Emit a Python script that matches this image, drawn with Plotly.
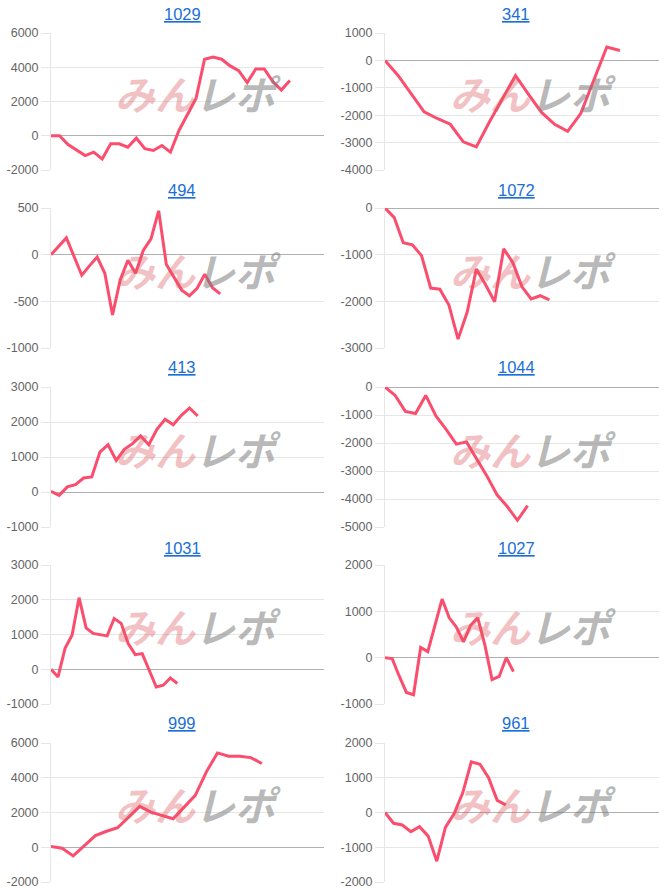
import plotly.graph_objects as go

# ---- data ----
titles = ["1029", "341", "494", "1072", "413", "1044", "1031", "1027", "999", "961"]

v1029 = [0, 0, -510, -860, -1160, -960, -1350, -470, -470, -670, -140, -760, -860, -570,
         -960, 310, 1290, 2180, 4470, 4590, 4470, 4080, 3800, 3100, 3900, 3900, 3160, 2670, 3220]
v341 = [0, -550, -1210, -1880, -2120, -2330, -2970, -3160, -2250, -1380, -550, -1240, -1900,
        -2330, -2590, -1940, -730, 490, 360]
v494 = [0, 90, 180, -20, -220, -120, -25, -200, -645, -270, -60, -200, 45, 170, 470, -105,
        -240, -380, -440, -360, -210, -355, -420]
v1072 = [0, -200, -745, -790, -1020, -1715, -1740, -2080, -2810, -2230, -1310, -1640, -2010,
         -875, -1170, -1690, -1950, -1880, -1970]
v413 = [20, -95, 145, 210, 400, 430, 1140, 1350, 900, 1220, 1380, 1600, 1350, 1790, 2080,
        1920, 2190, 2400, 2170]
v1044 = [0, -300, -870, -945, -300, -1030, -1515, -2040, -1960, -2545, -3175, -3850, -4270,
         -4760, -4240]
v1031 = [0, -220, 600, 980, 2060, 1190, 1030, 1000, 960, 1460, 1320, 740, 420, 450, -30,
         -510, -460, -250, -410]
v1027 = [0, -20, -400, -750, -800, 220, 130, 700, 1265, 860, 660, 340, 700, 860, 270, -475,
         -405, 0, -300]
v999 = [40, -60, -500, 100, 670, 920, 1120, 1730, 2350, 2020, 1830, 1640, 2310, 2990, 4340,
        5430, 5240, 5240, 5160, 4820]
v961 = [0, -310, -360, -550, -410, -680, -1400, -430, -40, 560, 1460, 1390, 1000, 350, 220]

series = [v1029, v341, v494, v1072, v413, v1044, v1031, v1027, v999, v961]

# y axis ranges / tick steps (as shown on the chart)
y_min = [-2000, -4000, -1000, -3000, -1000, -5000, -1000, -1000, -2000, -2000]
y_max = [6000, 1000, 500, 0, 3000, 0, 3000, 2000, 6000, 2000]
y_step = [2000, 1000, 500, 1000, 1000, 1000, 1000, 1000, 2000, 1000]
# number of x slots on each panel's axis
x_slots = [32, 21, 35.5, 30, 33.5, 26.9, 38.9, 38.4, 24.6, 31.75]

# ---- layout geometry (pixels) ----
W, H = 666, 888
col_x = [(51, 324), (385, 659)]
row_y = [(33, 170), (208, 348), (387, 527), (565, 704), (743, 882)]
title_x = [182, 516]
title_y = [14, 190, 367, 548, 723]

LINE = "#fb4d6d"
GRID = "#e6e6e6"
ZERO = "#b0b0b0"
TICKFONT = dict(family="Liberation Sans, Arial, sans-serif", size=12.5, color="#666666")

fig = go.Figure()
layout = dict(
    width=W, height=H, margin=dict(l=0, r=0, t=0, b=0, autoexpand=False),
    paper_bgcolor="white", plot_bgcolor="white", showlegend=False,
)
annotations = []

for i, vals in enumerate(series):
    r, c = divmod(i, 2)
    ax = "" if i == 0 else str(i + 1)
    xa, ya = "xaxis" + ax, "yaxis" + ax
    x0, x1 = col_x[c]
    top, bot = row_y[r]
    tickvals = list(range(y_min[i], y_max[i] + 1, y_step[i]))
    ticktext = [str(v) for v in tickvals]  # ASCII hyphen minus, as in the original
    layout[xa] = dict(
        domain=[x0 / W, x1 / W], range=[0, x_slots[i]], showgrid=False,
        showticklabels=False, zeroline=False, showline=False, ticks="",
        anchor="y" + ax, fixedrange=True, automargin=False,
    )
    layout[ya] = dict(
        domain=[1 - bot / H, 1 - top / H], range=[y_min[i], y_max[i]],
        tickmode="array", tickvals=tickvals, ticktext=ticktext,
        showgrid=True, gridcolor=GRID, gridwidth=1,
        zeroline=True, zerolinecolor=ZERO, zerolinewidth=1,
        showline=True, linecolor=GRID, linewidth=1,
        ticks="outside", ticklen=9, tickcolor=GRID, tickfont=TICKFONT,
        ticklabeloverflow="allow",
        anchor="x" + ax, fixedrange=True, automargin=False,
    )
    fig.add_trace(go.Scatter(
        x=list(range(len(vals))), y=vals, mode="lines",
        line=dict(color=LINE, width=3), xaxis="x" + ax, yaxis="y" + ax,
        hoverinfo="skip",
    ))
    annotations.append(dict(
        text="<u>" + titles[i] + "</u>", xref="paper", yref="paper",
        x=title_x[c] / W, y=1 - title_y[r] / H, xanchor="center", yanchor="middle",
        showarrow=False,
        font=dict(family="Liberation Sans, Arial, sans-serif", size=16.5, color="#1a6fd6"),
    ))
    annotations.append(dict(
        text="<b><i><span style='color:rgba(220,90,95,0.38)'>みん</span>"
             "<span style='color:rgba(125,125,125,0.55)'>レポ</span></i></b>",
        xref="x" + ax + " domain", yref="y" + ax + " domain",
        x=0.54, y=0.56, xanchor="center", yanchor="middle", showarrow=False,
        font=dict(family="Noto Sans CJK JP, sans-serif", size=40),
    ))

layout["annotations"] = annotations
fig.update_layout(**layout)
fig.write_html("out.html", config={"displayModeBar": False})
